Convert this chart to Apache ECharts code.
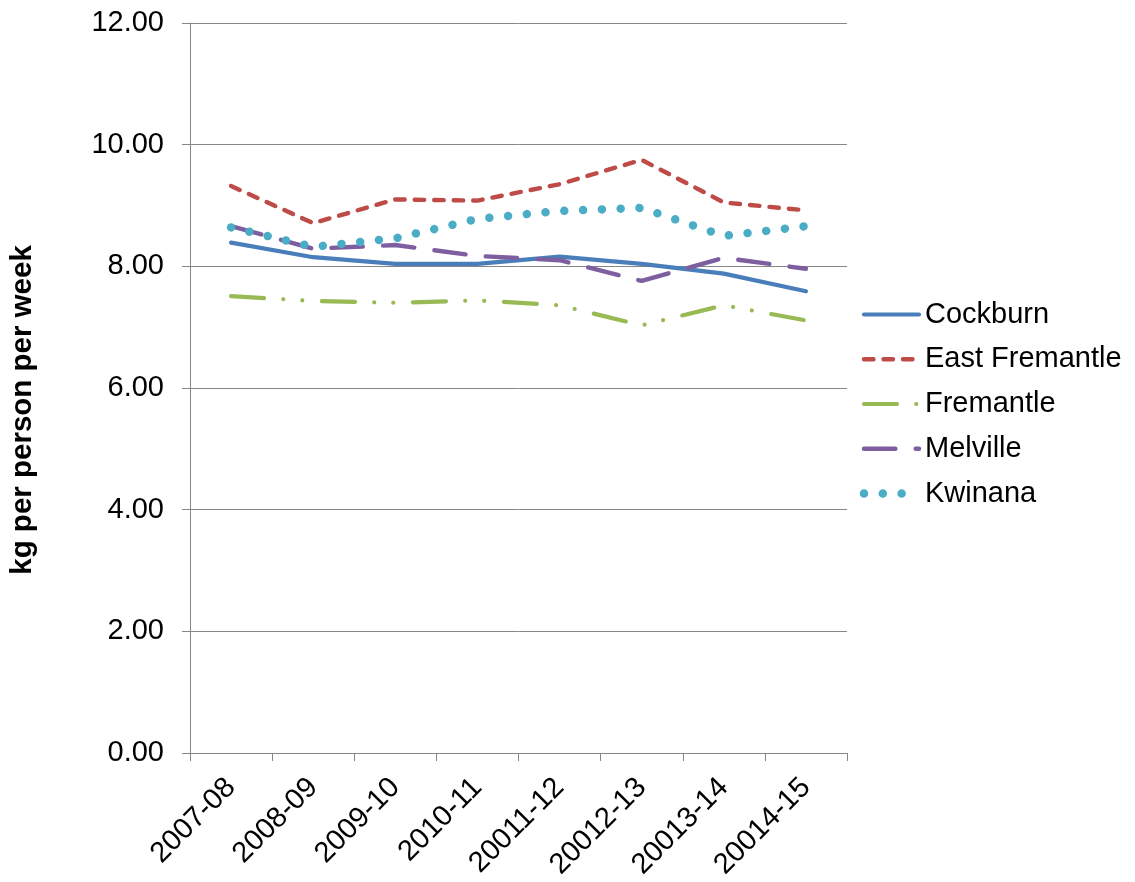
<!DOCTYPE html>
<html>
<head>
<meta charset="utf-8">
<script src="https://cdn.jsdelivr.net/npm/echarts@6/dist/echarts.min.js"></script>
<style>
  html, body { margin: 0; padding: 0; background: #ffffff; }
  #chart { width: 1135px; height: 882px; }
</style>
</head>
<body>
<div id="chart"></div>
<script>
// Financial years on the category axis
const categories = ['2007-08', '2008-09', '2009-10', '2010-11', '20011-12', '20012-13', '20013-14', '20014-15'];

// Waste generated, kg per person per week
const cockburn      = [8.39, 8.15, 8.04, 8.04, 8.16, 8.04, 7.88, 7.59];
const eastFremantle = [9.32, 8.71, 9.10, 9.08, 9.35, 9.75, 9.05, 8.92];
const fremantle     = [7.51, 7.43, 7.40, 7.44, 7.36, 7.03, 7.36, 7.11];
const melville      = [8.66, 8.29, 8.35, 8.17, 8.10, 7.76, 8.14, 7.96];
const kwinana       = [8.64, 8.32, 8.46, 8.78, 8.91, 8.96, 8.50, 8.66];

// Value axis ticks
const yTicks = { min: 0, max: 12, interval: 2 };

const FONT = '"Liberation Sans", Arial, sans-serif';
const AXIS_GREY = '#868686';

// Line appearance per council: colour, width and dash pattern
const styles = [
  { name: 'Cockburn',       data: cockburn,      color: '#4A7EBB', width: 4.2, dash: 'solid' },
  { name: 'East Fremantle', data: eastFremantle, color: '#BE4B48', width: 4.4, dash: [9.5, 10] },
  { name: 'Fremantle',      data: fremantle,     color: '#98B954', width: 4.2, dash: [33, 19.3, 0.01, 19, 0.01, 19.7] },
  { name: 'Melville',       data: melville,      color: '#7D5FA0', width: 4.4, dash: [31.4, 20.3] },
  { name: 'Kwinana',        data: kwinana,       color: '#4BACC6', width: 8.5, dash: [0.01, 18.8] }
];

const series = styles.map(function (s) {
  return {
    name: s.name,
    type: 'line',
    data: s.data,
    symbol: 'none',
    smooth: false,
    lineStyle: { color: s.color, width: s.width, type: s.dash, cap: 'round', join: 'round' },
    itemStyle: { color: s.color },
    emphasis: { disabled: true }
  };
});

// Legend drawn as a key on the right: sample line followed by the name
const legendLeft = 864, legendTop = 314.5, legendStep = 44.75, sampleLen = 55;
const legendGraphics = styles.map(function (s, i) {
  return {
    type: 'group',
    x: legendLeft,
    y: legendTop + i * legendStep,
    children: [
      {
        type: 'line',
        shape: { x1: 0, y1: 0, x2: sampleLen, y2: 0 },
        style: {
          stroke: s.color,
          lineWidth: s.width,
          lineDash: s.dash === 'solid' ? null : s.dash,
          lineCap: 'round'
        }
      },
      {
        type: 'text',
        x: sampleLen + 6,
        y: 0,
        style: {
          text: s.name,
          fontFamily: FONT,
          fontSize: 29,
          fill: '#000000',
          verticalAlign: 'middle',
          align: 'left'
        }
      }
    ]
  };
});

const chart = echarts.init(document.getElementById('chart'), null, { renderer: 'canvas' });

chart.setOption({
  animation: false,
  backgroundColor: '#ffffff',
  grid: { left: 189, right: 288, top: 23, bottom: 128, containLabel: false },
  graphic: legendGraphics,
  xAxis: {
    type: 'category',
    data: categories,
    boundaryGap: true,
    axisLine: { lineStyle: { color: AXIS_GREY, width: 1 } },
    axisTick: { show: true, interval: 0, length: 8, lineStyle: { color: AXIS_GREY } },
    axisLabel: {
      interval: 0,
      rotate: 45,
      margin: 30,
      fontFamily: FONT,
      fontSize: 29,
      color: '#000000'
    },
    splitLine: { show: false }
  },
  yAxis: {
    type: 'value',
    min: yTicks.min,
    max: yTicks.max,
    interval: yTicks.interval,
    name: 'kg per person per week',
    nameLocation: 'middle',
    nameRotate: 90,
    nameGap: 152,
    nameTextStyle: {
      fontFamily: FONT,
      fontSize: 29.5,
      fontWeight: 'bold',
      color: '#000000',
      padding: [0, 44, 0, 0]
    },
    axisLine: { show: true, lineStyle: { color: AXIS_GREY, width: 1 } },
    axisTick: { show: true, length: 8, lineStyle: { color: AXIS_GREY } },
    axisLabel: {
      margin: 26,
      fontFamily: FONT,
      fontSize: 29,
      color: '#000000',
      formatter: function (v) { return v.toFixed(2); }
    },
    splitLine: { show: true, lineStyle: { color: AXIS_GREY, width: 1 } }
  },
  series: series
});
</script>
</body>
</html>
